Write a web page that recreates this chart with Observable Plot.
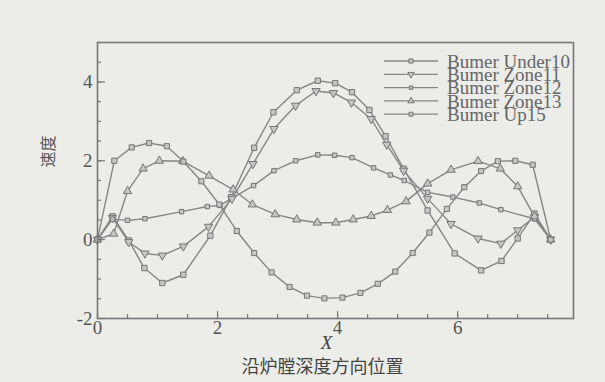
<!DOCTYPE html>
<html><head><meta charset="utf-8">
<script src="https://cdn.jsdelivr.net/npm/d3@7"></script>
<script src="https://cdn.jsdelivr.net/npm/@observablehq/plot@0.6"></script>
<style>
body{margin:0;background:#ecece9;}
#chart{width:605px;height:382px;}
</style></head><body><div id="chart"></div>
<script>
const seriesNames = ["Bumer Under10","Bumer Zone11","Bumer Zone12","Bumer Zone13","Bumer Up15"];

const under10X = [0, 0.25, 0.52, 0.78, 1.08, 1.43, 1.88, 2.23, 2.61, 2.93, 3.32, 3.67, 3.96, 4.24, 4.53, 4.8, 5.1, 5.5, 5.95, 6.39, 6.73, 7.0, 7.28, 7.55];
const under10Y = [0, 0.59, -0.02, -0.72, -1.1, -0.89, 0.1, 1.08, 2.33, 3.23, 3.79, 4.03, 3.97, 3.74, 3.29, 2.62, 1.8, 0.74, -0.35, -0.78, -0.54, 0.03, 0.66, 0];

const zone11X = [0, 0.25, 0.52, 0.79, 1.08, 1.43, 1.85, 2.24, 2.59, 2.94, 3.3, 3.64, 3.93, 4.23, 4.56, 4.82, 5.1, 5.5, 5.89, 6.34, 6.72, 7.0, 7.28, 7.55];
const zone11Y = [0, 0.55, -0.06, -0.35, -0.4, -0.17, 0.33, 1.04, 1.92, 2.81, 3.4, 3.77, 3.72, 3.48, 3.06, 2.41, 1.75, 1.04, 0.4, 0.03, -0.1, 0.24, 0.57, 0];

const zone12X = [0, 0.25, 0.5, 0.79, 1.4, 1.83, 2.04, 2.6, 2.94, 3.3, 3.67, 3.95, 4.24, 4.6, 4.88, 5.11, 5.5, 5.92, 6.36, 6.72, 7.28, 7.55];
const zone12Y = [0, 0.52, 0.49, 0.53, 0.71, 0.84, 0.87, 1.37, 1.75, 2.0, 2.15, 2.14, 2.08, 1.82, 1.64, 1.5, 1.2, 1.08, 0.93, 0.76, 0.53, 0];

const zone13X = [0, 0.27, 0.5, 0.76, 1.03, 1.42, 1.86, 2.26, 2.58, 2.96, 3.32, 3.66, 3.97, 4.26, 4.56, 4.83, 5.14, 5.5, 5.89, 6.34, 6.71, 7.0, 7.28, 7.55];
const zone13Y = [0, 0.15, 1.23, 1.8, 2.0, 1.99, 1.62, 1.27, 0.89, 0.64, 0.51, 0.43, 0.43, 0.51, 0.6, 0.75, 0.97, 1.42, 1.77, 1.99, 1.8, 1.35, 0.59, 0];

const up15X = [0, 0.28, 0.57, 0.86, 1.155, 1.43, 1.73, 2.03, 2.32, 2.61, 2.9, 3.2, 3.49, 3.78, 4.08, 4.38, 4.67, 4.96, 5.25, 5.53, 5.82, 6.11, 6.39, 6.67, 6.96, 7.25, 7.55];
const up15Y = [0, 2.0, 2.34, 2.45, 2.37, 1.98, 1.48, 0.89, 0.22, -0.34, -0.83, -1.2, -1.42, -1.49, -1.47, -1.35, -1.12, -0.81, -0.34, 0.18, 0.78, 1.33, 1.74, 1.99, 2.0, 1.9, 0];

const xTickLabels = [0, 2, 4, 6];
const yTickLabels = [-2, 0, 2, 4];
const xAxisLabel = "X";
const xTitle = "沿炉膛深度方向位置";
const yTitle = "速度";

const triDown = {draw(context, size) {
  const y = -Math.sqrt(size / (Math.sqrt(3) * 3));
  context.moveTo(0, -y * 2);
  context.lineTo(-Math.sqrt(3) * y, y);
  context.lineTo(Math.sqrt(3) * y, y);
  context.closePath();
}};

const seriesXs = [under10X, zone11X, zone12X, zone13X, up15X];
const seriesYs = [under10Y, zone11Y, zone12Y, zone13Y, up15Y];
const symbols = ["square", triDown, "square", "triangle", "square"];
const radii = [3.0, 3.1, 2.5, 3.1, 2.9];

const lineColor = "#868686";
const markStroke = "#747474";
const markFill = "#c6c6c4";
const textColor = "#555";
const axisColor = "#777";

const tables = seriesNames.map((name, i) => seriesXs[i].map((x, j) => ({series: name, x, y: seriesYs[i][j]})));

const xMinor = d3.range(0, 7.51, 0.5);
const yMinor = d3.range(-2, 5.01, 0.5);

const plot = Plot.plot({
  width: 605, height: 382,
  marginLeft: 97, marginRight: 32, marginTop: 42, marginBottom: 64,
  x: {domain: [0, 7.93]},
  y: {domain: [-2, 5]},
  style: {background: "transparent", fontFamily: "Liberation Serif", color: textColor},
  marks: [
    ...tables.map(t => Plot.line(t, {x: "x", y: "y", stroke: lineColor, strokeWidth: 1.4})),
    ...tables.map((t, i) => Plot.dot(t, {x: "x", y: "y", symbol: symbols[i], r: radii[i], stroke: markStroke, fill: markFill, strokeWidth: 1})),
    Plot.frame({stroke: axisColor, strokeWidth: 1.6}),
    Plot.axisX({ticks: xMinor, tickSize: 4, dy: -4, text: null, label: null, stroke: axisColor, strokeWidth: 1.2}),
    Plot.axisX({ticks: xTickLabels, tickSize: 7, dy: -7, text: null, label: null, stroke: axisColor, strokeWidth: 1.2}),
    Plot.axisX({ticks: xTickLabels, tickSize: 0, tickPadding: 2, fontSize: 19, label: null, fill: textColor, tickFormat: d => String(d)}),
    Plot.axisY({ticks: yMinor, tickSize: 4, dx: 4, text: null, label: null, stroke: axisColor, strokeWidth: 1.2}),
    Plot.axisY({ticks: yTickLabels, tickSize: 8, dx: 8, text: null, label: null, stroke: axisColor, strokeWidth: 1.2}),
    Plot.axisY({ticks: yTickLabels, tickSize: 0, tickPadding: 5, fontSize: 19, label: null, fill: textColor, tickFormat: d => String(d)}),
    Plot.text([xAxisLabel], {text: d => d, frameAnchor: "bottom", dx: -9, dy: 30, fontSize: 19, fontStyle: "italic", fill: "#444"}),
    Plot.text([xTitle], {text: d => d, frameAnchor: "bottom", dx: -13, dy: 54, fontSize: 18, fontFamily: "Noto Sans CJK SC", fill: "#444"}),
    Plot.text([yTitle], {text: d => d, frameAnchor: "left", dx: -49, dy: -13, rotate: -90, fontSize: 16, fontFamily: "Noto Sans CJK SC", fill: "#555"})
  ]
});

document.getElementById("chart").appendChild(plot);

// legend
const svg = d3.select(plot);
const leg = svg.append("g").attr("class", "legend").attr("text-anchor", "start");
const legX1 = 384, legX2 = 438, legTextX = 447, legTop = 61, legStep = 13.3;
seriesNames.forEach((name, i) => {
  const cy = legTop + i * legStep;
  leg.append("line").attr("x1", legX1).attr("x2", legX2).attr("y1", cy).attr("y2", cy)
    .attr("stroke", lineColor).attr("stroke-width", 1.3);
  const sym = typeof symbols[i] === "string" ? (symbols[i] === "square" ? d3.symbolSquare : d3.symbolTriangle) : symbols[i];
  leg.append("path").attr("transform", `translate(${(legX1 + legX2) / 2},${cy})`)
    .attr("d", d3.symbol(sym, radii[i] * radii[i] * Math.PI * 0.6)())
    .attr("stroke", markStroke).attr("fill", markFill);
  leg.append("text").attr("x", legTextX).attr("y", cy).attr("dy", "0.36em")
    .attr("text-anchor", "start")
    .attr("font-family", "Liberation Serif").attr("font-size", 19).attr("fill", "#666")
    .text(name);
});
</script></body></html>
